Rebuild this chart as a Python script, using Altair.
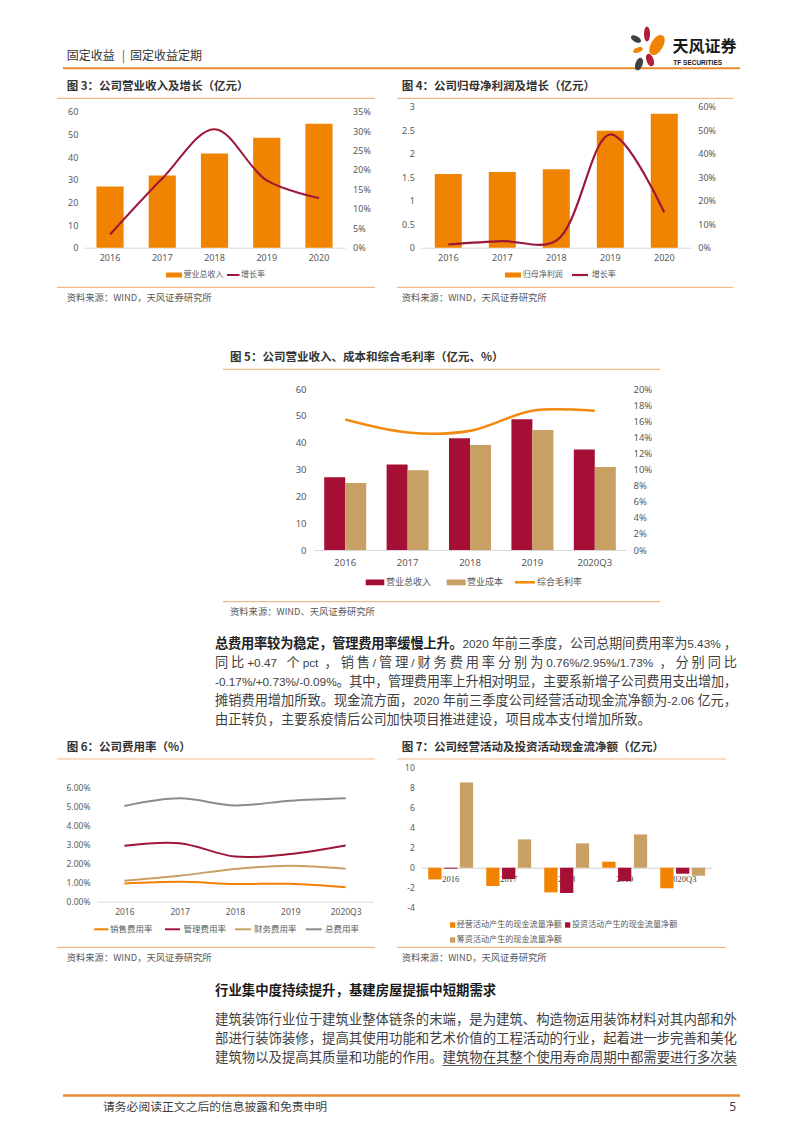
import altair as alt
import pandas as pd

CJK = "Noto Sans CJK SC"
NUM = "Noto Sans"
LAT = "Liberation Sans"
W, H = 786, 1117  # drawing area (page minus 8px margins)

# ---------------- data ----------------
years_a = ["2016", "2017", "2018", "2019", "2020"]
years_b = ["2016", "2017", "2018", "2019", "2020Q3"]

f3_revenue = [27.0, 31.8, 41.5, 48.5, 54.7]
f3_growth = [3.4, 17.8, 30.5, 17.3, 12.8]

f4_profit = [1.57, 1.61, 1.67, 2.49, 2.85]
f4_growth = [1.4, 2.8, 3.0, 48.2, 15.0]

f5_series = ["营业总收入", "营业成本"]
f5_revenue = [27.1, 31.9, 41.6, 48.7, 37.5]
f5_cost = [25.0, 29.7, 39.1, 44.7, 30.9]
f5_margin = [16.2, 14.6, 14.8, 17.3, 17.3]

f6_series = ["销售费用率", "管理费用率", "财务费用率", "总费用率"]
f6_sales = [0.95, 1.04, 0.93, 0.94, 0.76]
f6_admin = [2.93, 3.07, 2.37, 2.50, 2.95]
f6_finance = [1.10, 1.36, 1.72, 1.89, 1.73]
f6_total = [5.02, 5.42, 5.05, 5.30, 5.43]

f7_series = ["经营活动产生的现金流量净额", "投资活动产生的现金流量净额", "筹资活动产生的现金流量净额"]
f7_operating = [-1.17, -1.83, -2.47, 0.60, -2.06]
f7_investing = [-0.10, -1.13, -2.53, -1.33, -0.60]
f7_financing = [8.53, 2.83, 2.43, 3.33, -0.80]

para1_lead = "总费用率较为稳定，管理费用率缓慢上升。"
para1_lines = [
    "2020 年前三季度，公司总期间费用率为 5.43%，",
    "同比 +0.47 个 pct，销售/管理/财务费用率分别为 0.76%/2.95%/1.73%，分别同比",
    "-0.17%/+0.73%/-0.09%。其中，管理费用率上升相对明显，主要系新增子公司费用支出增加，",
    "摊销费用增加所致。现金流方面，2020 年前三季度公司经营活动现金流净额为-2.06 亿元，",
    "由正转负，主要系疫情后公司加快项目推进建设，项目成本支付增加所致。",
]
para2_head = "行业集中度持续提升，基建房屋提振中短期需求"
para2_lines = [
    "建筑装饰行业位于建筑业整体链条的末端，是为建筑、构造物运用装饰材料对其内部和外",
    "部进行装饰装修，提高其使用功能和艺术价值的工程活动的行业，起着进一步完善和美化",
    "建筑物以及提高其质量和功能的作用。建筑物在其整个使用寿命周期中都需要进行多次装",
]

# ---------------- colours ----------------
ORANGE = "#F08300"
MAROON = "#9E1638"
CRIMSON = "#A50F36"
TAN = "#C8A064"
GRAY = "#8C8C8C"
RULE = "#F2B987"
LABEL = "#595959"
BODY = "#3F3F3F"

ONE = alt.Data(values=[{"o": 1}])


def X(x):
    return x - 8


def Y(y):
    return y - 8


def T(s, x, y, size, color=BODY, weight="normal", align="left", font=CJK):
    return alt.Chart(ONE).mark_text(
        text=s, align=align, baseline="middle", fontSize=size,
        color=color, fontWeight=weight, font=font
    ).encode(x=alt.value(X(x)), y=alt.value(Y(y)))


def HL(x1, x2, y, color=RULE, width=1.2):
    return alt.Chart(ONE).mark_rule(color=color, strokeWidth=width).encode(
        x=alt.value(X(x1)), x2=alt.value(X(x2)), y=alt.value(Y(y)))


def BOX(x1, x2, y1, y2, color):
    return alt.Chart(ONE).mark_rect(color=color).encode(
        x=alt.value(X(x1)), x2=alt.value(X(x2)), y=alt.value(Y(y1)), y2=alt.value(Y(y2)))


def petal(cx, cy, h, w, angle, color):
    k = w / (0.75 * h)
    path = f"M0,-1C{k:.3f},-1 {k:.3f},1 0,1C{-k:.3f},1 {-k:.3f},-1 0,-1Z"
    return alt.Chart(ONE).mark_point(
        shape=path, filled=True, size=h * h, angle=angle, color=color, opacity=1
    ).encode(x=alt.value(X(cx)), y=alt.value(Y(cy)))


# ---------- simple typesetting for justified paragraph lines ----------
LAT_W = {".": .278, "%": .889, "/": .278, "+": .584, "-": .333, " ": .278,
         "p": .556, "c": .5, "t": .278}


def lat_width(s, size):
    return sum(LAT_W.get(ch, .556) for ch in s) * size


def typeset(segments, x0, x1, y, size, lsize, justify, color=BODY):
    """segments: list of (text, bold). Returns layers and unit positions."""
    units = []
    for text, bold in segments:
        run = ""
        for ch in text:
            if ord(ch) >= 0x2E80:
                if run:
                    units.append(("L", run, bold, lat_width(run, lsize)))
                    run = ""
                units.append(("C", ch, bold, size))
            else:
                run += ch
        if run:
            units.append(("L", run, bold, lat_width(run, lsize)))
    natural = sum(u[3] for u in units)
    extra = (x1 - x0 - natural) / (len(units) - 1) if justify and len(units) > 1 else 0
    groups = {}
    pos = []
    x = x0
    for kind, t, bold, w in units:
        groups.setdefault((kind, bold), []).append({"t": t, "x": X(x)})
        pos.append(x)
        x += w + extra
    layers = []
    base = Y(y) + 0.36 * size
    for (kind, bold), rows in groups.items():
        layers.append(
            alt.Chart(pd.DataFrame(rows)).mark_text(
                align="left", baseline="alphabetic",
                font=CJK if kind == "C" else LAT,
                fontSize=size if kind == "C" else lsize,
                fontWeight="bold" if bold else "normal",
                color="#222222" if bold else color,
            ).encode(x=alt.X("x:Q", scale=None), y=alt.value(base), text="t:N")
        )
    return layers, pos, x - extra


def band(domain, left, right, pi, po):
    return alt.Scale(domain=domain, range=[X(left), X(right)], paddingInner=pi, paddingOuter=po)


def yscale(domain, bottom, top):
    return alt.Scale(domain=domain, nice=False, zero=False, range=[Y(bottom), Y(top)])


def yaxis(orient, xpage, values, expr, size=9, pad=6):
    off = -X(xpage) if orient == "left" else X(xpage) - W
    return alt.Axis(orient=orient, offset=off, values=values, labelExpr=expr,
                    domain=False, ticks=False, grid=False, title=None,
                    labelFont=NUM, labelFontSize=size, labelColor=LABEL,
                    labelPadding=pad, labelOverlap=False)


def xaxis(ypage, size=9, pad=5, font=NUM, color=LABEL, dcolor="#D9D9D9"):
    return alt.Axis(orient="bottom", offset=Y(ypage) - H, domain=True, domainColor=dcolor,
                    ticks=False, grid=False, title=None, labelFont=font, labelFontSize=size,
                    labelColor=color, labelPadding=pad, labelAngle=0, zindex=0,
                    labelOverlap=False)


def frame(title, tx, ty, rx1, rx2, ry_top, ry_bot, src, sy):
    return [
        T(title, tx, ty, 11.5, color="#333333", weight="bold"),
        HL(rx1, rx2, ry_top),
        HL(rx1, rx2, ry_bot),
        T(src, tx, sy, 9.3, color=LABEL),
    ]


layers = []

# ---------------- header ----------------
layers += [
    T("固定收益", 66.7, 56.3, 12, color="#333333"),
    T("|", 121.7, 56.3, 12, color="#555555"),
    T("固定收益定期", 130, 56.3, 12, color="#333333"),
    HL(63, 740, 68.3, color="#E98B33", width=2),
    petal(647, 34, 15, 6, 0, "#B01E3C"),
    petal(636, 39, 11, 6, 300, "#404040"),
    petal(657, 45, 22, 12, 30, ORANGE),
    petal(638, 50, 10, 5, 70, ORANGE),
    petal(650, 60, 13, 7, 340, "#B01E3C"),
    petal(639, 64, 13, 7, 20, "#404040"),
    T("天风证券", 672.5, 47, 16, color="#1A1A1A", weight="bold"),
    T("TF SECURITIES", 673.3, 62.7, 6.5, color="#1A1A1A", weight="bold", font=LAT),
]

# ---------------- figure 3 ----------------
f3_df = pd.DataFrame({"year": years_a, "revenue": f3_revenue, "growth": f3_growth})
f3_x = band(years_a, 83.9, 345.1, 0.48, 0.24)
layers += [
    alt.Chart(f3_df).mark_bar(color=ORANGE).encode(
        x=alt.X("year:N", scale=f3_x, axis=xaxis(247.7, pad=5.5)),
        y=alt.Y("revenue:Q", scale=yscale([0, 62.2], 247.7, 106.7),
                axis=yaxis("left", 83.9, [0, 10, 20, 30, 40, 50, 60], "'' + datum.value"))),
    alt.Chart(f3_df).mark_line(color=MAROON, strokeWidth=2, interpolate="catmull-rom").encode(
        x=alt.X("year:N", scale=f3_x, axis=None),
        y=alt.Y("growth:Q", scale=yscale([0, 36.28], 247.7, 106.7),
                axis=yaxis("right", 345.1, [0, 5, 10, 15, 20, 25, 30, 35], "datum.value + '%'", pad=7.5))),
]
layers += frame("图 3：公司营业收入及增长（亿元）", 66.7, 87, 57, 375, 98.3, 287.3,
                "资料来源：WIND，天风证券研究所", 297.7)
layers += [
    BOX(166, 182, 272.5, 277.5, ORANGE), T("营业总收入", 183.5, 275, 8, color=LABEL),
    HL(227, 239.5, 275, color=MAROON, width=2), T("增长率", 241, 275, 8, color=LABEL),
]

# ---------------- figure 4 ----------------
f4_df = pd.DataFrame({"year": years_a, "profit": f4_profit, "growth": f4_growth})
f4_x = band(years_a, 421.3, 691.3, 0.5, 0.25)
layers += [
    alt.Chart(f4_df).mark_bar(color=ORANGE).encode(
        x=alt.X("year:N", scale=f4_x, axis=xaxis(247.7, pad=5.5)),
        y=alt.Y("profit:Q", scale=yscale([0, 3], 247.7, 106.7),
                axis=yaxis("left", 421.3, [0, 0.5, 1, 1.5, 2, 2.5, 3], "'' + datum.value", pad=7))),
    alt.Chart(f4_df).mark_line(color=MAROON, strokeWidth=2.2, interpolate="catmull-rom").encode(
        x=alt.X("year:N", scale=f4_x, axis=None),
        y=alt.Y("growth:Q", scale=yscale([0, 60], 247.7, 106.7),
                axis=yaxis("right", 691.3, [0, 10, 20, 30, 40, 50, 60], "datum.value + '%'", pad=6.5))),
]
layers += frame("图 4：公司归母净利润及增长（亿元）", 401.7, 87, 397, 733, 98.3, 287.3,
                "资料来源：WIND，天风证券研究所", 297.7)
layers += [
    BOX(505, 521, 272.5, 277.5, ORANGE), T("归母净利润", 522.7, 275, 8, color=LABEL),
    HL(572, 588, 275, color=MAROON, width=2.2), T("增长率", 591.7, 275, 8, color=LABEL),
]

# ---------------- figure 5 ----------------
f5_bars = pd.DataFrame({
    "cat": years_b * 2,
    "series": [f5_series[0]] * 5 + [f5_series[1]] * 5,
    "value": f5_revenue + f5_cost,
})
f5_line = pd.DataFrame({"cat": years_b, "margin": f5_margin})
f5_x = band(years_b, 314, 626, 0.327, 0.1635)
layers += [
    alt.Chart(f5_bars).mark_bar().encode(
        x=alt.X("cat:N", scale=f5_x, axis=xaxis(550, size=9.5, pad=7.5)),
        xOffset=alt.XOffset("series:N", scale=alt.Scale(domain=f5_series, paddingInner=0, paddingOuter=0)),
        y=alt.Y("value:Q", scale=yscale([0, 60], 550, 389),
                axis=yaxis("left", 314, [0, 10, 20, 30, 40, 50, 60], "'' + datum.value", size=9.5, pad=8)),
        color=alt.Color("series:N", scale=alt.Scale(domain=f5_series, range=[CRIMSON, TAN]), legend=None)),
    alt.Chart(f5_line).mark_line(color="#F28A10", strokeWidth=2.6, interpolate="catmull-rom").encode(
        x=alt.X("cat:N", scale=f5_x, axis=None),
        y=alt.Y("margin:Q", scale=yscale([0, 20], 550, 389),
                axis=yaxis("right", 626, [0, 2, 4, 6, 8, 10, 12, 14, 16, 18, 20], "datum.value + '%'",
                           size=9.5, pad=7))),
]
layers += frame("图 5：公司营业收入、成本和综合毛利率（亿元、%）", 230, 358.3, 222.7, 660, 369.3, 601.7,
                "资料来源：WIND、天风证券研究所", 611.7)
layers += [
    BOX(365.7, 384.3, 579.5, 585.3, CRIMSON), T("营业总收入", 386, 582.3, 9, color=LABEL),
    BOX(446.7, 465.7, 579.5, 585.3, TAN), T("营业成本", 467, 582.3, 9, color=LABEL),
    HL(515, 535, 582.3, color="#F28A10", width=2.6), T("综合毛利率", 537, 582.3, 9, color=LABEL),
]

# ---------------- paragraph 1 ----------------
P1 = 13.2
LP = 11.8
PX0, PX1 = 215, 737
p1y = [643.5, 662.5, 681.5, 700.5, 719.5]
for i, line in enumerate(para1_lines):
    segs = [(para1_lead, True), (line, False)] if i == 0 else [(line, False)]
    lay, _, _ = typeset(segs, PX0, PX1, p1y[i], P1, LP, justify=(i < 4))
    layers += lay

# ---------------- figure 6 ----------------
f6_df = pd.DataFrame({
    "cat": years_b * 4,
    "series": sum([[s] * 5 for s in f6_series], []),
    "value": f6_sales + f6_admin + f6_finance + f6_total,
})
layers += [
    alt.Chart(f6_df).mark_line(strokeWidth=2, interpolate="catmull-rom").encode(
        x=alt.X("cat:N", scale=alt.Scale(type="point", domain=years_b, range=[X(96.7), X(373.3)], padding=0.5),
                axis=xaxis(901.7, size=8.5, pad=5.5)),
        y=alt.Y("value:Q", scale=yscale([-0.3147, 7.028], 907.7, 767.7),
                axis=yaxis("left", 96.7, [0, 1, 2, 3, 4, 5, 6], "format(datum.value, '.2f') + '%'",
                           size=8.5, pad=6.7)),
        color=alt.Color("series:N", scale=alt.Scale(domain=f6_series, range=[ORANGE, MAROON, TAN, GRAY]),
                        legend=None)),
]
layers += frame("图 6：公司费用率（%）", 66.7, 748.3, 57, 375, 759, 947.3,
                "资料来源：WIND，天风证券研究所", 957.7)
layers += [
    HL(94.3, 108.3, 929.3, color=ORANGE, width=2), T("销售费用率", 110, 929.3, 8.5, color=LABEL),
    HL(165, 180, 929.3, color=MAROON, width=2), T("管理费用率", 183.5, 929.3, 8.5, color=LABEL),
    HL(235, 251, 929.3, color=TAN, width=2), T("财务费用率", 254, 929.3, 8.5, color=LABEL),
    HL(305.7, 321.7, 929.3, color=GRAY, width=2), T("总费用率", 325, 929.3, 8.5, color=LABEL),
]

# ---------------- figure 7 ----------------
f7_df = pd.DataFrame({
    "cat": years_b * 3,
    "series": sum([[s] * 5 for s in f7_series], []),
    "value": f7_operating + f7_investing + f7_financing,
})
layers += [
    alt.Chart(f7_df).mark_bar().encode(
        x=alt.X("cat:N", scale=band(years_b, 421.7, 711.7, 0.226, 0.113),
                axis=xaxis(867.7, size=8.5, pad=6.5, font="Liberation Serif", color="#404040",
                           dcolor="#D0D0D0")),
        xOffset=alt.XOffset("series:N", scale=alt.Scale(domain=f7_series, paddingInner=0.16, paddingOuter=0)),
        y=alt.Y("value:Q", scale=yscale([-4, 10], 907.7, 767.7),
                axis=yaxis("left", 421.7, [-4, -2, 0, 2, 4, 6, 8, 10], "'' + datum.value", size=8.5, pad=7.4)),
        color=alt.Color("series:N", scale=alt.Scale(domain=f7_series, range=[ORANGE, CRIMSON, TAN]),
                        legend=None)),
]
layers += frame("图 7：公司经营活动及投资活动现金流净额（亿元）", 401.7, 748.3, 397, 726, 759, 947.3,
                "资料来源：WIND，天风证券研究所", 957.7)
layers += [
    BOX(450, 455.3, 922.3, 927.7, ORANGE), T(f7_series[0], 456.7, 925, 8.1, color=LABEL),
    BOX(565, 570.3, 922.3, 927.7, CRIMSON), T(f7_series[1], 572, 925, 8.1, color=LABEL),
    BOX(450, 455.3, 937.3, 942.7, TAN), T(f7_series[2], 456.7, 940, 8.1, color=LABEL),
]

# ---------------- paragraph 2 + footer ----------------
P2 = 13.4
layers.append(T(para2_head, PX0, 990.5, 13.4, color="#1A1A1A", weight="bold"))
p2y = [1019.5, 1038.5, 1057.5]
for i, line in enumerate(para2_lines):
    lay, pos, xend = typeset([(line, False)], PX0, PX1, p2y[i], P2, LP, justify=True)
    layers += lay
    if i == 2:
        start = pos[line.index("。") + 1]
        layers.append(HL(start, PX1, p2y[i] + 8, color="#555555", width=1))

layers += [
    HL(63, 740, 1095.5, color="#E98B33", width=2.5),
    T("请务必阅读正文之后的信息披露和免责申明", 103, 1107, 11.8, color=BODY),
    T("5", 736, 1107, 12, color=BODY, align="right", font=NUM),
]

chart = alt.layer(*layers).resolve_scale(
    x="independent", y="independent", color="independent", xOffset="independent"
).properties(
    width=W, height=H, autosize=alt.AutoSizeParams(type="none"), padding=0
).configure_view(stroke=None)

chart.save("out.html", embed_options={"renderer": "svg", "actions": False})
